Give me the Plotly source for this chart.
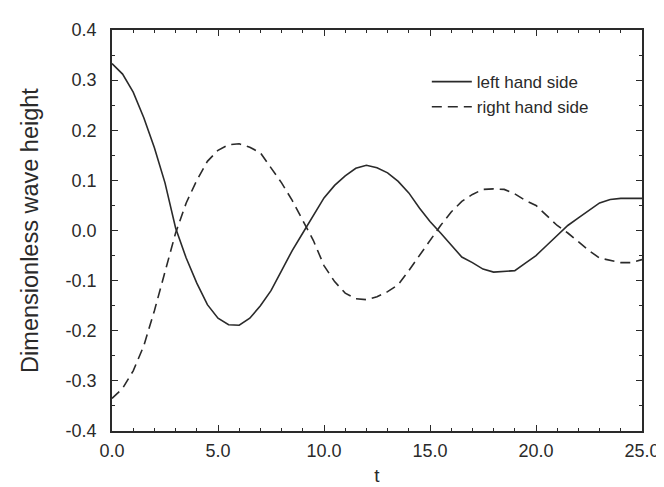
import plotly.graph_objects as go

t = [0.0, 0.5, 1.0, 1.5, 2.0, 2.5, 3.0, 3.5, 4.0, 4.5, 5.0, 5.5, 6.0, 6.5, 7.0, 7.5,
     8.0, 8.5, 9.0, 9.5, 10.0, 10.5, 11.0, 11.5, 12.0, 12.5, 13.0, 13.5, 14.0, 14.5,
     15.0, 15.5, 16.0, 16.5, 17.0, 17.5, 18.0, 18.5, 19.0, 19.5, 20.0, 20.5, 21.0,
     21.5, 22.0, 22.5, 23.0, 23.5, 24.0, 24.5, 25.0]

left_hand_side = [0.333, 0.312, 0.276, 0.225, 0.165, 0.095, 0.005, -0.055, -0.105,
                  -0.148, -0.175, -0.188, -0.189, -0.175, -0.150, -0.120, -0.080,
                  -0.040, -0.005, 0.030, 0.065, 0.090, 0.109, 0.124, 0.130, 0.125,
                  0.115, 0.098, 0.075, 0.045, 0.018, -0.005, -0.030, -0.053, -0.064,
                  -0.077, -0.083, -0.082, -0.080, -0.065, -0.050, -0.030, -0.010,
                  0.010, 0.025, 0.040, 0.055, 0.062, 0.064, 0.064, 0.064]

right_hand_side = [-0.335, -0.315, -0.280, -0.230, -0.160, -0.085, -0.005, 0.055,
                   0.100, 0.138, 0.160, 0.171, 0.173, 0.166, 0.155, 0.125, 0.095,
                   0.060, 0.020, -0.020, -0.070, -0.102, -0.125, -0.136, -0.138,
                   -0.132, -0.122, -0.108, -0.080, -0.050, -0.020, 0.010, 0.037,
                   0.058, 0.072, 0.082, 0.083, 0.082, 0.073, 0.060, 0.050, 0.030,
                   0.010, -0.005, -0.022, -0.040, -0.055, -0.060, -0.064, -0.064,
                   -0.058]

x_ticks = [0, 5, 10, 15, 20, 25]
x_tick_labels = ["0.0", "5.0", "10.0", "15.0", "20.0", "25.0"]
y_ticks = [-0.4, -0.3, -0.2, -0.1, 0.0, 0.1, 0.2, 0.3, 0.4]
y_tick_labels = ["-0.4", "-0.3", "-0.2", "-0.1", "0.0", "0.1", "0.2", "0.3", "0.4"]

FONT = "Liberation Sans, Arial, sans-serif"
INK = "#2a2a2a"

fig = go.Figure()
fig.add_trace(go.Scatter(x=t, y=left_hand_side, mode="lines", name="left hand side",
                         line=dict(color=INK, width=1.6)))
fig.add_trace(go.Scatter(x=t, y=right_hand_side, mode="lines", name="right hand side",
                         line=dict(color=INK, width=1.6, dash="10px,6px")))

axis_common = dict(
    showline=True, linecolor=INK, linewidth=1.5, mirror="allticks",
    ticks="inside", ticklen=6, tickwidth=1, tickcolor=INK,
    showgrid=False, zeroline=False,
    tickfont=dict(family=FONT, size=18, color=INK),
)

fig.update_xaxes(
    range=[0, 25], tickmode="array", tickvals=x_ticks, ticktext=x_tick_labels,
    minor=dict(ticks="inside", ticklen=3, tickcolor=INK, dtick=1, showgrid=False),
    title=dict(text="t", font=dict(family=FONT, size=19, color=INK), standoff=8),
    ticklabelstandoff=3,
    **axis_common,
)
fig.update_yaxes(
    range=[-0.4, 0.4], tickmode="array", tickvals=y_ticks, ticktext=y_tick_labels,
    minor=dict(ticks="inside", ticklen=3, tickcolor=INK, dtick=0.05, tick0=0, showgrid=False),
    title=dict(text="Dimensionless wave height", font=dict(family=FONT, size=23.5, color=INK), standoff=20),
    ticklabelstandoff=10,
    **axis_common,
)

fig.update_layout(
    width=664, height=487,
    margin=dict(l=104, r=21, t=16, b=54),
    paper_bgcolor="white", plot_bgcolor="white",
    showlegend=True,
    legend=dict(x=0.594, y=0.915, xanchor="left", yanchor="top",
                bgcolor="rgba(0,0,0,0)", borderwidth=0,
                font=dict(family=FONT, size=17, color=INK),
                tracegroupgap=0, itemwidth=40),
)

fig.write_html("out.html")
